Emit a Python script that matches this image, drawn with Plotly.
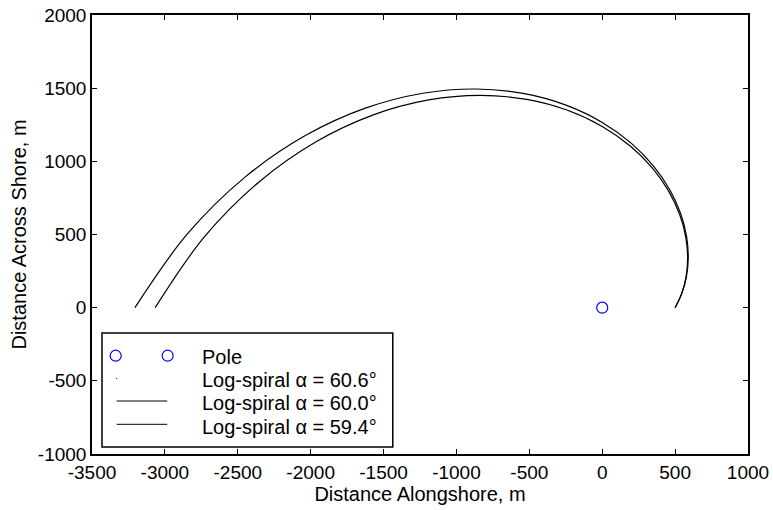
import plotly.graph_objects as go

# Pole of the spirals (alongshore, across-shore), m
POLE_X = [0]
POLE_Y = [0]

# Log-spiral shoreline, alpha = 60.0 deg (points every 10 deg of polar angle), m
SPIRAL_600_X = [500.0, 544.6, 574.8, 585.9, 573.2, 531.9, 457.6, 346.2, 194.4, 0.0,
                -237.8, -518.1, -837.7, -1191.1, -1570.0, -1963.1, -2355.9, -2730.8, -3066.9]
SPIRAL_600_Y = [0.0, 96.0, 209.2, 338.2, 480.9, 633.9, 792.7, 951.3, 1102.6, 1238.3,
                1348.8, 1423.4, 1450.9, 1419.5, 1317.4, 1133.4, 857.5, 481.5, 0.0]

# Log-spiral shoreline, alpha = 59.4 deg, m
SPIRAL_594_X = [500.0, 545.9, 577.6, 590.2, 578.8, 538.5, 464.4, 352.2, 198.3, 0.0,
                -243.8, -532.3, -862.8, -1229.7, -1624.9, -2036.7, -2450.3, -2847.2, -3205.5]
SPIRAL_594_Y = [0.0, 96.3, 210.2, 340.7, 485.7, 641.8, 804.4, 967.7, 1124.5, 1266.0,
                1382.4, 1462.4, 1494.3, 1465.5, 1363.5, 1175.9, 891.9, 502.0, 0.0]

LEGEND_LABELS = ["Pole", "Log-spiral α = 60.6°", "Log-spiral α = 60.0°", "Log-spiral α = 59.4°"]

X_TICKS = [-3500, -3000, -2500, -2000, -1500, -1000, -500, 0, 500, 1000]
Y_TICKS = [-1000, -500, 0, 500, 1000, 1500, 2000]
X_RANGE = [-3500, 1000]
Y_RANGE = [-1000, 2000]

FONT = "Liberation Sans, Arial, Helvetica, sans-serif"
FIG_W, FIG_H = 773, 510
M_L, M_R, M_T, M_B = 92, 24.5, 15, 56
PLOT_W = FIG_W - M_L - M_R
PLOT_H = FIG_H - M_T - M_B


def px_x(px):
    return (px - M_L) / PLOT_W


def px_y(py):
    return (FIG_H - M_B - py) / PLOT_H


fig = go.Figure()

fig.add_trace(go.Scatter(x=SPIRAL_600_X, y=SPIRAL_600_Y, mode="lines",
                         line=dict(color="black", width=1.2, shape="spline"),
                         name=LEGEND_LABELS[2], showlegend=False))
fig.add_trace(go.Scatter(x=SPIRAL_594_X, y=SPIRAL_594_Y, mode="lines",
                         line=dict(color="black", width=1.2, shape="spline"),
                         name=LEGEND_LABELS[3], showlegend=False))
fig.add_trace(go.Scatter(x=POLE_X, y=POLE_Y, mode="markers",
                         marker=dict(symbol="circle-open", size=11, color="#0000ff",
                                     line=dict(width=1.2, color="#0000ff")),
                         name=LEGEND_LABELS[0], showlegend=False))

axis_common = dict(
    showline=True, linecolor="black", linewidth=1.5, mirror="ticks",
    ticks="inside", ticklen=5, tickwidth=1, tickcolor="black",
    showgrid=False, zeroline=False,
    tickfont=dict(family=FONT, size=19, color="black"),
)

fig.update_xaxes(range=X_RANGE, tickvals=X_TICKS, ticktext=[str(v) for v in X_TICKS],
                 title=dict(text="Distance Alongshore, m", standoff=4,
                            font=dict(family=FONT, size=20, color="black")),
                 **axis_common)
fig.update_yaxes(range=Y_RANGE, tickvals=Y_TICKS, ticktext=[str(v) for v in Y_TICKS],
                 title=dict(text="Distance Across Shore, m", standoff=6,
                            font=dict(family=FONT, size=20, color="black")),
                 **axis_common)

# Boxed legend in the lower-left corner of the axes
shapes = [
    dict(type="rect", xref="paper", yref="paper",
         x0=px_x(102), x1=px_x(393), y0=px_y(447), y1=px_y(333),
         line=dict(color="black", width=1.5), fillcolor="white", layer="above"),
]
row_y = [355.7, 378.5, 401.0, 424.3]
for cx in (115.7, 167.7):
    shapes.append(dict(type="circle", xref="paper", yref="paper",
                       xsizemode="pixel", ysizemode="pixel",
                       xanchor=px_x(cx), yanchor=px_y(row_y[0]),
                       x0=-5.5, x1=5.5, y0=-5.5, y1=5.5,
                       line=dict(color="#0000ff", width=1.2), layer="above"))
shapes.append(dict(type="line", xref="paper", yref="paper",
                   x0=px_x(116.2), x1=px_x(117.2), y0=px_y(row_y[1]), y1=px_y(row_y[1]),
                   line=dict(color="black", width=1), layer="above"))
for ry in row_y[2:]:
    shapes.append(dict(type="line", xref="paper", yref="paper",
                       x0=px_x(116.7), x1=px_x(167.3), y0=px_y(ry), y1=px_y(ry),
                       line=dict(color="black", width=1), layer="above"))

text_y = [357.0, 380.0, 403.3, 426.7]
annotations = [
    dict(text=lbl, xref="paper", yref="paper", x=px_x(200), y=px_y(ty),
         xanchor="left", yanchor="middle", showarrow=False,
         font=dict(family=FONT, size=20, color="black"))
    for lbl, ty in zip(LEGEND_LABELS, text_y)
]

fig.update_layout(
    width=FIG_W, height=FIG_H,
    margin=dict(l=M_L, r=M_R, t=M_T, b=M_B, autoexpand=False),
    paper_bgcolor="white", plot_bgcolor="white",
    showlegend=False,
    shapes=shapes, annotations=annotations,
    font=dict(family=FONT, size=20, color="black"),
)

fig.write_html("out.html")
